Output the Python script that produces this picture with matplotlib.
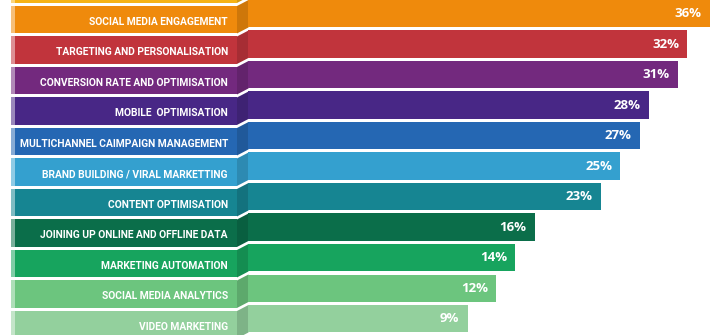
import matplotlib.pyplot as plt
from matplotlib.patches import Rectangle, Polygon
from matplotlib.colors import to_rgb

plt.rcParams['font.family'] = ['Open Sans', 'DejaVu Sans']

# Marketing priorities (% of respondents)
categories = [
    'SOCIAL MEDIA ENGAGEMENT',
    'TARGETING AND PERSONALISATION',
    'CONVERSION RATE AND OPTIMISATION',
    'MOBILE  OPTIMISATION',
    'MULTICHANNEL CAIMPAIGN MANAGEMENT',
    'BRAND BUILDING / VIRAL MARKETTING',
    'CONTENT OPTIMISATION',
    'JOINING UP ONLINE AND OFFLINE DATA',
    'MARKETING AUTOMATION',
    'SOCIAL MEDIA ANALYTICS',
    'VIDEO MARKETING',
]
values = [36, 32, 31, 28, 27, 25, 23, 16, 14, 12, 9]
colors = ['#EF8A0C', '#C1343C', '#73297E', '#482786', '#2567B3', '#34A0CF',
          '#168592', '#0B6E4A', '#17A45E', '#6CC57E', '#93D09D']
top_color = '#F6B317'


def shade(c, f):
    r, g, b = to_rgb(c)
    return (r * f, g * f, b * f)


def tint(c, f):
    r, g, b = to_rgb(c)
    return (r + (1 - r) * f, g + (1 - g) * f, b + (1 - b) * f)


W, H = 710, 335
fig = plt.figure(figsize=(W / 100, H / 100), dpi=100)

split = 248           # where the bars begin (px)
box_l, box_r = 11, 237
row_px = 30.5
drop = 6 / row_px     # label boxes sit a little lower than the bars
bh = 0.9
ylim = (H / row_px - 0.45, -0.45)

# left panel: label boxes with folded edge
axl = fig.add_axes([0, 0, split / W, 1])
axl.set_xlim(0, split)
axl.set_ylim(*ylim)
axl.axis('off')

# right panel: the bars
base = -14.0
axr = fig.add_axes([split / W, 0, 1 - split / W, 1])
xmax = base + (W - split) / 9.55
axr.set_xlim(base, xmax)
axr.set_ylim(*ylim)
axr.axis('off')


def label_box(y, c):
    top = y + drop - bh / 2
    bot = y + drop + bh / 2
    axl.add_patch(Rectangle((box_l, top), box_r - box_l, bh, color=c, lw=0))
    axl.add_patch(Rectangle((box_l, top), 4, bh, color=tint(c, 0.45), lw=0))
    axl.add_patch(Polygon([(box_r, top), (split + 0.5, top - drop),
                           (split + 0.5, bot - drop), (box_r, bot)],
                          closed=True, color=shade(c, 0.86), lw=0,
                          clip_on=False))


label_box(-1, top_color)

ys = list(range(len(categories)))
for y, name, c in zip(ys, categories, colors):
    label_box(y, c)
    axl.text(228, y + drop + 0.07, name, ha='right', va='center',
             color='white', fontsize=7.4, fontweight='bold',
             family=['Roboto', 'DejaVu Sans'])

axr.barh(ys, [v - base for v in values], left=base, height=bh,
         color=colors, linewidth=0)
for y, v in zip(ys, values):
    axr.annotate(f'{v}%', (min(v, xmax), y), xytext=(-6, 0),
                 textcoords='offset points', ha='right', va='center',
                 color='white', fontsize=9.5, fontweight='bold')

fig.savefig('out.png', dpi=100)
